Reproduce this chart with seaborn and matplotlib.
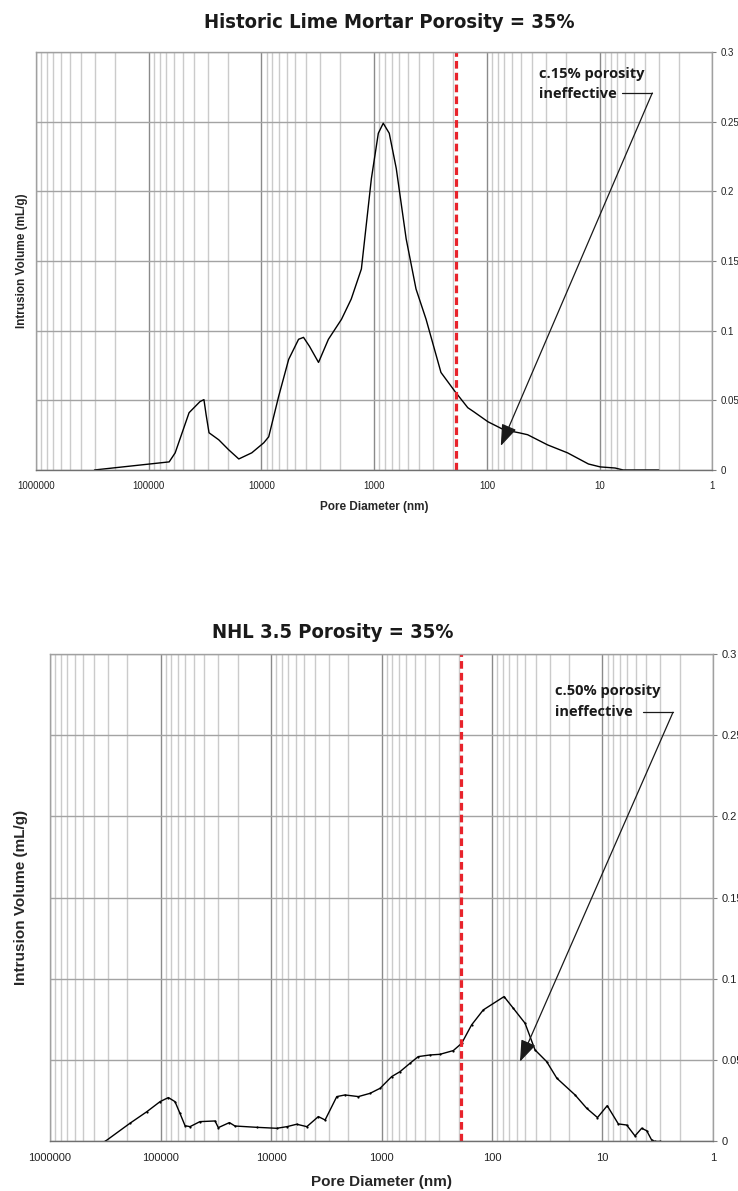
import matplotlib
matplotlib.use('Agg')
import matplotlib.pyplot as plt
import matplotlib.ticker as mticker
import pandas as pd
import seaborn as sns


# pore diameter (nm) and intrusion volume (mL/g)
lime_diam = [303000, 65900, 58300, 43900, 35100, 32400, 31000, 29200, 23900,
             19500, 15900, 12200, 9550, 8630, 7050, 5740, 4690, 4240, 3750,
             3120, 2550, 1950, 1600, 1300, 1060, 920, 832, 736, 638, 521,
             426, 347, 256, 192, 148, 131, 98, 71, 52, 43.6, 29, 19.3, 12.6,
             9.9, 7.3, 6.2, 3.0]
lime_vol = [0, 0.0058, 0.0123, 0.0411, 0.0491, 0.0505, 0.0397, 0.0267,
            0.0216, 0.0144, 0.0079, 0.0123, 0.0195, 0.0238, 0.0527, 0.0794,
            0.0938, 0.0952, 0.0887, 0.0772, 0.0938, 0.1082, 0.1227, 0.1443,
            0.2092, 0.2417, 0.2489, 0.2417, 0.2165, 0.1659, 0.1299, 0.1082,
            0.0700, 0.0563, 0.0447, 0.0418, 0.0346, 0.0289, 0.0267, 0.0253,
            0.0180, 0.0123, 0.0043, 0.0022, 0.0014, 0, 0]

nhl_diam = [318000, 189000, 133000, 101000, 84900, 74000, 66700, 60000,
            54100, 44000, 32100, 30000, 23800, 21200, 13500, 8870, 7190,
            5850, 4740, 3730, 3240, 2540, 2140, 1620, 1270, 1030, 809, 681,
            552, 465, 364, 296, 224, 188, 153, 120, 77.8, 64.1, 50.2, 40.8,
            32, 25.9, 17.7, 13.9, 11.1, 9.06, 7.19, 6.04, 5.08, 4.42, 3.98,
            3.59, 3.35, 3.02]
nhl_vol = [0, 0.0112, 0.0183, 0.0245, 0.0270, 0.0245, 0.0173, 0.0097,
           0.0091, 0.0122, 0.0126, 0.0085, 0.0116, 0.0095, 0.0087, 0.0081,
           0.0091, 0.0106, 0.0091, 0.0153, 0.0132, 0.0276, 0.0286, 0.0276,
           0.0296, 0.0327, 0.0399, 0.0429, 0.0481, 0.0522, 0.0532, 0.0536,
           0.0559, 0.0604, 0.0717, 0.0809, 0.0891, 0.0819, 0.0727, 0.0563,
           0.0491, 0.0389, 0.0286, 0.0204, 0.0147, 0.0220, 0.0108, 0.0101,
           0.0034, 0.0081, 0.0066, 0.0009, 0, 0]

x_ticks = [1000000, 100000, 10000, 1000, 100, 10, 1]
x_ticklabels = ['1000000', '100000', '10000', '1000', '100', '10', '1']
y_ticks = [0, 0.05, 0.1, 0.15, 0.2, 0.25, 0.3]
y_ticklabels = ['0', '0.05', '0.1', '0.15', '0.2', '0.25', '0.3']

# effective pore size limit
cutoff_nm = 190

TITLE_FONT = ['DejaVu Sans']
NOTE_FONT = ['Open Sans', 'DejaVu Sans']
LABEL_FONT = ['Liberation Sans', 'DejaVu Sans']


def style_axes(ax, tick_size, label_size, ylab_x, xlab_y):
    ax.set_xscale('log')
    ax.set_xlim(1e6, 1)
    ax.set_ylim(0, 0.3)

    ax.xaxis.set_major_locator(mticker.FixedLocator(x_ticks))
    ax.xaxis.set_major_formatter(mticker.FixedFormatter(x_ticklabels))
    ax.xaxis.set_minor_locator(
        mticker.LogLocator(base=10, subs=range(2, 10), numticks=20))
    ax.xaxis.set_minor_formatter(mticker.NullFormatter())

    ax.yaxis.tick_right()
    ax.set_yticks(y_ticks)
    ax.set_yticklabels(y_ticklabels)

    ax.tick_params(axis='both', which='major', direction='out', length=3,
                   width=0.8, color='#808080', labelsize=tick_size,
                   labelcolor='#222222', pad=3)
    ax.tick_params(axis='x', which='minor', length=0)
    ax.tick_params(axis='x', which='major', pad=5)

    ax.grid(False)
    ax.grid(which='minor', axis='x', color='#cbcbcb', lw=1.0)
    ax.grid(which='major', axis='x', color='#8a8a8a', lw=1.0)
    ax.grid(which='major', axis='y', color='#a3a3a3', lw=1.0)
    ax.set_axisbelow(True)

    for side in ['top', 'left', 'right']:
        ax.spines[side].set_color('#a0a0a0')
        ax.spines[side].set_linewidth(1.0)
    ax.spines['bottom'].set_color('#707070')
    ax.spines['bottom'].set_linewidth(1.0)

    ax.set_xlabel('Pore Diameter (nm)', fontsize=label_size,
                  fontweight='bold', family=LABEL_FONT)
    ax.set_ylabel('Intrusion Volume (mL/g)', fontsize=label_size,
                  fontweight='bold', family=LABEL_FONT)
    ax.yaxis.set_label_position('left')
    ax.yaxis.set_label_coords(ylab_x, 0.5)
    ax.xaxis.set_label_coords(0.5, xlab_y)

    for lab in ax.get_xticklabels() + ax.get_yticklabels():
        lab.set_family(LABEL_FONT)


def annotate_ineffective(ax, text, text_x, text_y, line_x0, corner, tip,
                         size):
    ax.text(text_x, text_y, text, ha='left', va='center', fontsize=size,
            fontweight='bold', family=NOTE_FONT, color='#1a1a1a',
            linespacing=1.6)
    ax.plot([line_x0, corner[0]], [corner[1], corner[1]], color='k', lw=0.9)
    ax.annotate('', xy=tip, xytext=corner,
                arrowprops=dict(arrowstyle='-|>,head_length=1.1,head_width=0.4',
                                color='k', lw=0.9, shrinkA=0, shrinkB=0))


sns.set_theme(style='white')
plt.rcParams['font.family'] = ['Liberation Sans', 'DejaVu Sans']

fig = plt.figure(figsize=(7.38, 11.91), dpi=100)
fig.patch.set_facecolor('white')

# top chart: historic lime mortar
ax1 = fig.add_axes([0.0488, 0.6054, 0.9166, 0.3509])
lime_df = pd.DataFrame({'diam': lime_diam, 'vol': lime_vol})
sns.lineplot(data=lime_df, x='diam', y='vol', ax=ax1, color='black',
             lw=1.0, sort=False, estimator=None)
ax1.axvline(cutoff_nm, color='#e8232b', lw=2.3, ls=(0, (2.4, 1.3)))
style_axes(ax1, tick_size=7, label_size=8.5, ylab_x=-0.012, xlab_y=-0.075)
annotate_ineffective(ax1, 'c.15% porosity\nineffective', 34.8, 0.2771,
                     6.3, (3.42, 0.2706), (75.4, 0.0173), size=10.5)
fig.text(0.528, 0.9812, 'Historic Lime Mortar Porosity = 35%',
         ha='center', va='center', fontsize=14.5, fontweight='bold',
         fontstretch='condensed', family=TITLE_FONT, color='#1a1a1a')

# bottom chart: NHL 3.5
ax2 = fig.add_axes([0.0678, 0.0416, 0.8983, 0.4095])
nhl_df = pd.DataFrame({'diam': nhl_diam, 'vol': nhl_vol})
sns.lineplot(data=nhl_df, x='diam', y='vol', ax=ax2, color='black',
             lw=1.0, sort=False, estimator=None, marker='o', ms=1.6,
             markeredgewidth=0)
ax2.axvline(cutoff_nm, color='#e8232b', lw=2.3, ls=(0, (2.4, 1.3)))
style_axes(ax2, tick_size=8, label_size=11, ylab_x=-0.033, xlab_y=-0.068)
annotate_ineffective(ax2, 'c.50% porosity\nineffective', 26.9, 0.2705,
                     4.30, (2.30, 0.264), (55.8, 0.0491), size=10.5)
fig.text(0.451, 0.4690, 'NHL 3.5 Porosity = 35%',
         ha='center', va='center', fontsize=14.5, fontweight='bold',
         fontstretch='condensed', family=TITLE_FONT, color='#1a1a1a')

fig.savefig('out.png', dpi=100)
plt.close(fig)
